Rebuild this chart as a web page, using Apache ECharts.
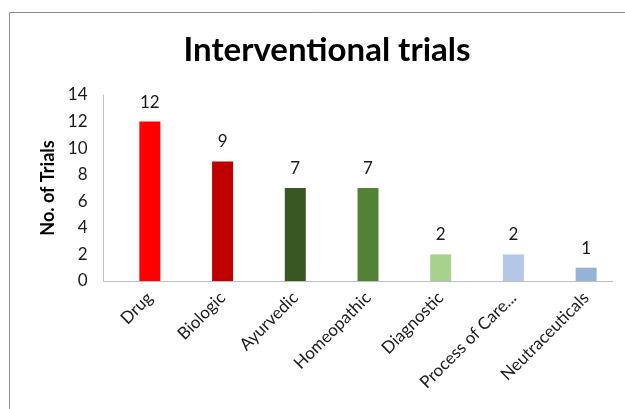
<!DOCTYPE html>
<html>
<head>
<meta charset="utf-8">
<script src="https://cdn.jsdelivr.net/npm/echarts@6/dist/echarts.min.js"></script>
<style>
  html, body { margin: 0; padding: 0; background: #fff; }
  #chart { width: 625px; height: 409px; }
</style>
</head>
<body>
<div id="chart"></div>
<script>
const categories = ['Drug', 'Biologic', 'Ayurvedic', 'Homeopathic', 'Diagnostic', 'Process of Care...', 'Neutraceuticals']
const trials = [12, 9, 7, 7, 2, 2, 1]
const barColors = ['#ff0000', '#c00000', '#385723', '#548235', '#a9d18e', '#b4c7e7', '#95b3d7']
const yTicks = { min: 0, max: 14, interval: 2 }

const font = 'Lato, "Open Sans", sans-serif'
const chart = echarts.init(document.getElementById('chart'))

chart.setOption({
  backgroundColor: '#fff',
  animation: false,
  title: {
    text: 'Interventional trials',
    left: 322,
    top: 29,
    textAlign: 'center',
    textStyle: { fontFamily: font, fontSize: 33, fontWeight: 'bold', color: '#000' }
  },
  graphic: [{
    type: 'rect',
    shape: { x: 9.5, y: 12.5, width: 700, height: 500 },
    style: { fill: 'none', stroke: '#8c8c8c', lineWidth: 1 },
    silent: true
  }],
  // grid 0 carries the axis lines, grid 1 the bars (bars sit a little right of the axis start)
  grid: [
    { left: 103.5, right: 12.5, top: 95, bottom: 128 },
    { left: 113.5, right: 2.5, top: 95, bottom: 128 }
  ],
  xAxis: [{
    gridIndex: 0,
    type: 'category',
    data: categories,
    axisLine: { lineStyle: { color: '#bfbfbf', width: 1 } },
    axisTick: { show: false },
    axisLabel: { show: false }
  }, {
    gridIndex: 1,
    type: 'category',
    data: categories,
    axisLine: { show: false },
    axisTick: { show: false },
    axisLabel: {
      rotate: 45,
      margin: 14,
      interval: 0,
      fontFamily: font,
      fontSize: 17,
      color: '#1a1a1a'
    }
  }],
  yAxis: [{
    gridIndex: 0,
    type: 'value',
    min: yTicks.min,
    max: yTicks.max,
    interval: yTicks.interval,
    name: 'No. of Trials',
    nameLocation: 'middle',
    nameGap: 46,
    nameTextStyle: { fontFamily: font, fontSize: 18, fontWeight: 'bold', color: '#000' },
    axisLine: { show: true, lineStyle: { color: '#bfbfbf', width: 1 } },
    axisTick: { show: false },
    splitLine: { show: false },
    axisLabel: { margin: 16, fontFamily: font, fontSize: 17, color: '#1a1a1a' }
  }, {
    gridIndex: 1,
    type: 'value',
    min: yTicks.min,
    max: yTicks.max,
    interval: yTicks.interval,
    show: false,
    splitLine: { show: false }
  }],
  series: [{
    type: 'bar',
    xAxisIndex: 1,
    yAxisIndex: 1,
    barWidth: 21,
    data: trials.map((v, i) => ({ value: v, itemStyle: { color: barColors[i] } })),
    label: {
      show: true,
      position: 'top',
      distance: 11,
      fontFamily: font,
      fontSize: 17,
      color: '#1a1a1a'
    }
  }]
})
</script>
</body>
</html>
